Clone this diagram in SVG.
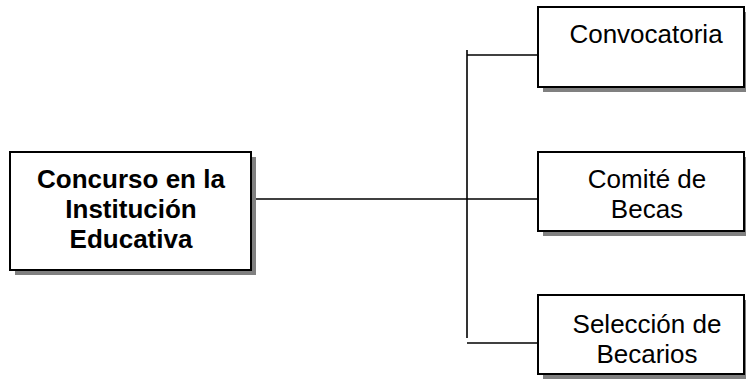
<svg xmlns="http://www.w3.org/2000/svg" width="746" height="379" viewBox="0 0 746 379">
<style>
.shadow{fill:#808080;stroke:none}
.box{fill:#fff;stroke:#000;stroke-width:2}
.conn{stroke:#000;stroke-width:1.6;fill:none}
.tb{font-family:"Liberation Sans",Arial,sans-serif;font-size:26px;font-weight:bold;text-anchor:middle;fill:#000}
.tr{font-family:"Liberation Sans",Arial,sans-serif;font-size:26px;text-anchor:middle;fill:#000}
</style>
<rect width="746" height="379" fill="#fff"/>
<g id="connectors">
<line class="conn" x1="251" y1="199" x2="538" y2="199"/>
<line class="conn" x1="467" y1="50" x2="467" y2="338"/>
<line class="conn" x1="467" y1="55" x2="538" y2="55"/>
<line class="conn" x1="467" y1="343" x2="538" y2="343"/>
</g>
<g id="main">
<rect class="shadow" x="15" y="157" width="241" height="118"/>
<rect class="box" x="10" y="152" width="241" height="118"/>
<text class="tb" x="131" y="188">Concurso en la</text>
<text class="tb" x="131" y="218">Institución</text>
<text class="tb" x="131" y="248">Educativa</text>
</g>
<g id="convocatoria">
<rect class="shadow" x="543" y="12" width="210" height="80"/>
<rect class="box" x="538" y="7" width="206" height="80"/>
<text class="tr" x="646" y="43">Convocatoria</text>
</g>
<g id="comite">
<rect class="shadow" x="543" y="157" width="210" height="79"/>
<rect class="box" x="538" y="152" width="206" height="79"/>
<text class="tr" x="647" y="188">Comité de</text>
<text class="tr" x="647" y="218">Becas</text>
</g>
<g id="seleccion">
<rect class="shadow" x="543" y="300" width="210" height="79"/>
<rect class="box" x="538" y="295" width="206" height="79"/>
<text class="tr" x="647" y="333">Selección de</text>
<text class="tr" x="647" y="363">Becarios</text>
</g>
</svg>
